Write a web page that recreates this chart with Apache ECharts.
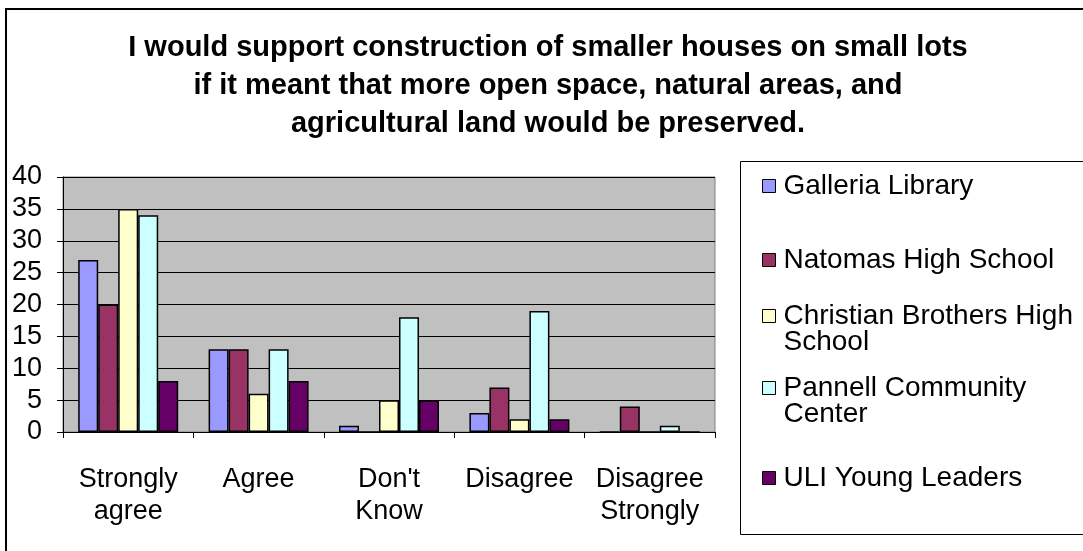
<!DOCTYPE html>
<html>
<head>
<meta charset="utf-8">
<script src="https://cdn.jsdelivr.net/npm/echarts@6/dist/echarts.min.js"></script>
<style>html,body{margin:0;padding:0;background:#fff;}#chart{width:1083px;height:551px;}</style>
</head>
<body>
<div id="chart"></div>
<script>
const titleText = 'I would support construction of smaller houses on small lots\nif it meant that more open space, natural areas, and\nagricultural land would be preserved.';
const categories = ['Strongly\nagree', 'Agree', "Don't\nKnow", 'Disagree', 'Disagree\nStrongly'];
const seriesNames = ['Galleria Library', 'Natomas High School', 'Christian Brothers High School', 'Pannell Community Center', 'ULI Young Leaders'];
const legendFirstLines = ['Galleria Library', 'Natomas High School', 'Christian Brothers High', 'Pannell Community', 'ULI Young Leaders'];
const legendSecondLines = ['', '', 'School', 'Center', ''];
const galleria = [27, 13, 1, 3, 0];
const natomas = [20, 13, 0, 7, 4];
const christian = [35, 6, 5, 2, 0];
const pannell = [34, 13, 18, 19, 1];
const uli = [8, 8, 5, 2, 0];
const yTicks = [0, 5, 10, 15, 20, 25, 30, 35, 40];
const colors = ['#9999FF', '#993366', '#FFFFCC', '#CCFFFF', '#660066'];
const values = [galleria, natomas, christian, pannell, uli];
const legendCenters = [186, 260, 316, 388, 478];

const font = 'Liberation Sans, Arial, sans-serif';
const LFS = 28, LLH = 26, LLEFT = 762, TEXTX = LLEFT + 13 + 5 + 3.5;

const graphics = [
  {type: 'rect', shape: {x: 6, y: 9, width: 1100, height: 600}, style: {fill: 'none', stroke: '#000', lineWidth: 2}, z: 100},
  {type: 'rect', shape: {x: 740.5, y: 161.5, width: 400, height: 373}, style: {fill: 'none', stroke: '#000', lineWidth: 1}, z: 100},
  {type: 'text', x: 548, y: 29, style: {text: titleText, textAlign: 'center', textVerticalAlign: 'top',
    fontFamily: font, fontSize: 29, fontWeight: 'bold', fill: '#000', lineHeight: 38}}
];
legendSecondLines.forEach((t, i) => {
  if (t) graphics.push({type: 'text', x: TEXTX, y: legendCenters[i] + LLH,
    style: {text: t, fontFamily: font, fontSize: LFS, fill: '#000', textAlign: 'left', textVerticalAlign: 'middle'}});
});

const chart = echarts.init(document.getElementById('chart'));
chart.setOption({
  animation: false,
  backgroundColor: '#fff',
  graphic: graphics,
  legend: seriesNames.map((n, i) => ({
    data: [n], left: LLEFT, top: legendCenters[i] - LFS / 2, orient: 'vertical', padding: 0,
    icon: 'rect', itemWidth: 13, itemHeight: 13, itemGap: 0,
    selectedMode: false,
    itemStyle: {borderColor: '#000', borderWidth: 1},
    formatter: () => legendFirstLines[i],
    textStyle: {fontFamily: font, fontSize: LFS, color: '#000', lineHeight: LFS, padding: [0, 0, 0, 3]}
  })),
  grid: {left: 63, top: 177, right: 368, bottom: 119, show: true, backgroundColor: '#C0C0C0', borderColor: '#808080', borderWidth: 1},
  xAxis: {
    type: 'category', data: categories,
    axisLine: {lineStyle: {color: '#000', width: 1}},
    axisTick: {show: true, length: 6, lineStyle: {color: '#000'}},
    axisLabel: {fontFamily: font, fontSize: 27, color: '#000', lineHeight: 32, margin: 32, interval: 0}
  },
  yAxis: {
    type: 'value', min: 0, max: 40, interval: 5,
    axisLine: {show: true, lineStyle: {color: '#000', width: 1}},
    axisTick: {show: true, length: 6, lineStyle: {color: '#000'}},
    axisLabel: {fontFamily: font, fontSize: 27, color: '#000', margin: 21,
      formatter: v => yTicks.includes(v) ? String(v) : ''},
    splitLine: {show: true, lineStyle: {color: '#000', width: 1}}
  },
  series: seriesNames.map((n, i) => ({
    name: n, type: 'bar', data: values[i], barWidth: 20, barGap: '0%',
    itemStyle: {color: colors[i], borderColor: '#000', borderWidth: 1.5}
  }))
});
</script>
</body>
</html>
